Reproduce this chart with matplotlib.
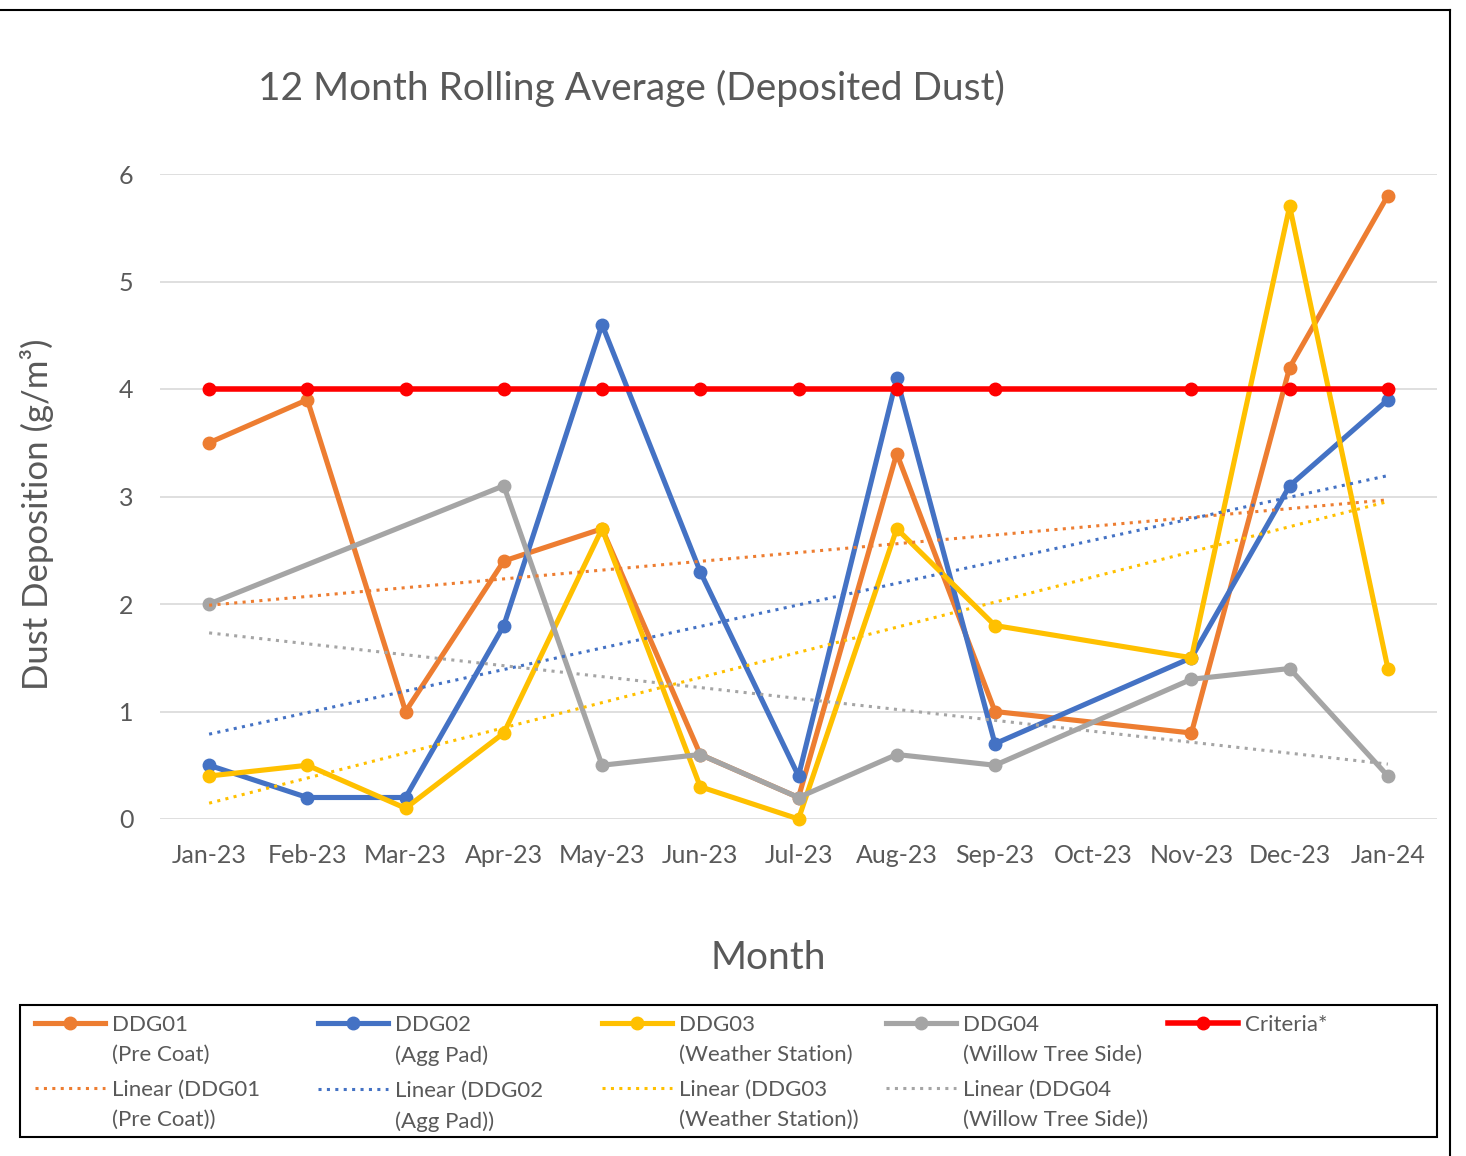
import numpy as np
import matplotlib.pyplot as plt
from matplotlib.lines import Line2D
from matplotlib.patches import Rectangle

# ---------------------------------------------------------------------
# data (Oct-23 has no readings)

nan = np.nan

months = ['Jan-23', 'Feb-23', 'Mar-23', 'Apr-23', 'May-23', 'Jun-23', 'Jul-23',
          'Aug-23', 'Sep-23', 'Oct-23', 'Nov-23', 'Dec-23', 'Jan-24']

ddg01 = [3.5, 3.9, 1.0, 2.4, 2.7, 0.6, 0.2, 3.4, 1.0, nan, 0.8, 4.2, 5.8]
ddg02 = [0.5, 0.2, 0.2, 1.8, 4.6, 2.3, 0.4, 4.1, 0.7, nan, 1.5, 3.1, 3.9]
ddg03 = [0.4, 0.5, 0.1, 0.8, 2.7, 0.3, 0.0, 2.7, 1.8, nan, 1.5, 5.7, 1.4]
ddg04 = [2.0, nan, nan, 3.1, 0.5, 0.6, 0.2, 0.6, 0.5, nan, 1.3, 1.4, 0.4]
criteria = [4, 4, 4, 4, 4, 4, 4, 4, 4, nan, 4, 4, 4]

series_labels = ['DDG01\n(Pre Coat)', 'DDG02\n(Agg Pad)',
                 'DDG03\n(Weather Station)', 'DDG04\n(Willow Tree Side)']
trend_labels = ['Linear (DDG01\n(Pre Coat))', 'Linear (DDG02\n(Agg Pad))',
                'Linear (DDG03\n(Weather Station))', 'Linear (DDG04\n(Willow Tree Side))']
criteria_label = 'Criteria*'

colors = ['#ED7D31', '#4472C4', '#FFC000', '#A5A5A5']
TEXT = '#595959'

# ---------------------------------------------------------------------

plt.rcParams['font.family'] = ['Lato', 'DejaVu Sans']

W, H = 1466, 1156
fig = plt.figure(figsize=(W / 100, H / 100), dpi=100)
ax = fig.add_axes([160 / W, 1 - 819 / H, (1437 - 160) / W, (819 - 174) / H])

x = np.arange(len(months))

main_handles = []
for vals, col in zip([ddg01, ddg02, ddg03, ddg04], colors):
    y = np.array(vals, dtype=float)
    ok = ~np.isnan(y)
    h, = ax.plot(x[ok], y[ok], color=col, lw=3.7, marker='o', ms=9,
                 zorder=3, clip_on=False)
    main_handles.append(h)

y = np.array(criteria, dtype=float)
ok = ~np.isnan(y)
crit_handle, = ax.plot(x[ok], y[ok], color='#FF0000', lw=4, marker='o', ms=9,
                       zorder=3, clip_on=False)

# excel style linear trendlines over the available points
trend_handles = []
for vals, col in zip([ddg01, ddg02, ddg03, ddg04], colors):
    y = np.array(vals, dtype=float)
    ok = ~np.isnan(y)
    slope, icpt = np.polyfit(x[ok], y[ok], 1)
    t, = ax.plot(x, icpt + slope * x, color=col, lw=2.2,
                 ls=(0, (1, 1.75)), zorder=4)
    trend_handles.append(t)

ax.set_xlim(-0.5, 12.5)
ax.set_ylim(0, 6)
ax.set_yticks(range(7))
ax.set_xticks(x, months)
ax.grid(axis='y', color='#D9D9D9', lw=1.2)
ax.set_axisbelow(True)
for s in ax.spines.values():
    s.set_visible(False)
ax.tick_params(length=0, labelsize=18, labelcolor=TEXT)
ax.tick_params(axis='y', pad=19)
ax.tick_params(axis='x', pad=18)

fig.text(631 / W, 1 - 88 / H, '12 Month Rolling Average (Deposited Dust)',
         ha='center', va='center', fontsize=28, color=TEXT)
fig.text(768 / W, 1 - 958 / H, 'Month', ha='center', va='center',
         fontsize=28, color=TEXT)
fig.text(37 / W, 1 - 514 / H, 'Dust Deposition (g/m³)', ha='center', va='center',
         rotation=90, fontsize=25, color=TEXT)

# ---------------------------------------------------------------------
# legend, one column at a time so the columns sit at even spacing

col_x = [35, 318, 602, 886, 1168]
groups = [([main_handles[i], trend_handles[i]], [series_labels[i], trend_labels[i]])
          for i in range(4)]
groups.append(([crit_handle], [criteria_label]))

for cx, (hands, labs) in zip(col_x, groups):
    leg = fig.legend(hands, labs, loc='upper left',
                     bbox_to_anchor=(cx / W, 1 - 1015 / H),
                     frameon=False, fontsize=16, handlelength=3.15,
                     handletextpad=0.3, borderpad=0, borderaxespad=0,
                     labelspacing=0.7, labelcolor=TEXT)
    for t in leg.get_texts():
        t.set_linespacing(1.6)
    # put the handle on the first line of the label
    for column in leg._legend_handle_box.get_children():
        for row in column.get_children():
            row.align = 'top'

fig.add_artist(Rectangle((20 / W, 1 - 1137 / H), 1417 / W, 132 / H,
                         transform=fig.transFigure, fill=False,
                         edgecolor='black', lw=1.5))

# outer chart border (top and right edges show in the crop)
fig.add_artist(Line2D([0, 1450 / W], [1 - 10 / H, 1 - 10 / H],
                      transform=fig.transFigure, color='black', lw=1.5))
fig.add_artist(Line2D([1450 / W, 1450 / W], [1 - 10 / H, 0],
                      transform=fig.transFigure, color='black', lw=1.5))

fig.savefig('out.png', dpi=100)
